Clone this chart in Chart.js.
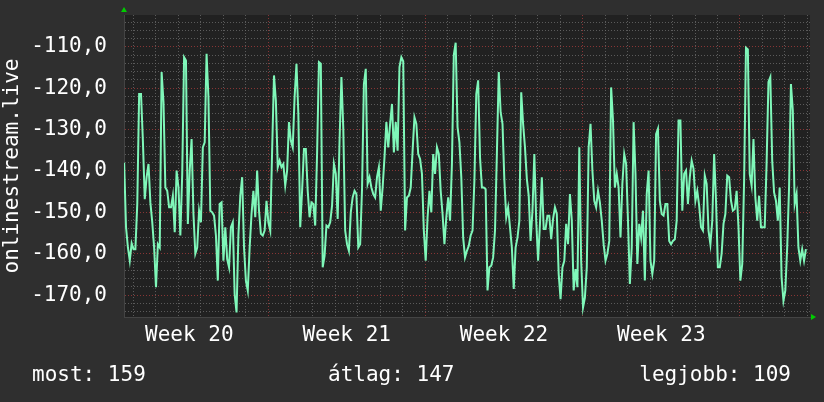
<!DOCTYPE html>
<html>
<head>
<meta charset="utf-8">
<script src="https://cdn.jsdelivr.net/npm/chart.js@4.4.1/dist/chart.umd.min.js"></script>
<style>
  html, body { margin: 0; padding: 0; background: #2f2f2f; }
  canvas { display: block; }
</style>
</head>
<body>
<canvas id="chart" width="824" height="402"></canvas>
<script>
// samples every 2 hours, x in days from the start of week 20
var dayStart = 0.6;
var dayStep = 1 / 12;

var signal = [
  -138, -153.6, -158.5, -161.7, -157.5, -158.9, -158.9, -148, -121.4, -121.4,
  -132.7, -146.8, -141.5, -138.3, -147.6, -152.4, -158.5, -168.1, -157.7, -158.5,
  -116.1, -123.4, -144, -144.8, -148.8, -148.8, -146, -154.8, -139.9, -144,
  -155.6, -140.7, -112.5, -113.3, -152.8, -139.9, -132.3, -150.4, -160, -158.5,
  -149.6, -152.4, -134.3, -133.1, -111.7, -122.2, -149.6, -150, -150.8, -155.6,
  -166.5, -148,
  -147.6, -161.7, -153.6, -161.3, -163.3, -153.6, -152.4, -169.8, -174.2, -155.6,
  -146, -141.5, -158.5, -166.5, -168.9, -158.5, -150.4, -144.8, -151.2, -139.9,
  -149.6, -155.2, -155.6, -154.4, -147.2, -152.4, -154.4, -135.1, -116.9, -123,
  -139.1, -137.5, -139.1, -138.3, -143.5, -139.9, -128.2, -132.7, -134.3, -122.2,
  -114.1, -126.2, -153.6, -144.8, -134.7, -134.7, -144.8, -151.2, -147.6, -148,
  -153.2, -135.9,
  -113.7, -114.1, -163.3, -160.5, -153.2, -153.6, -152.4, -148.4, -138.3, -140.7,
  -151.6, -132.7, -117.3, -129.8, -154.4, -157.7, -159.3, -150, -146.4, -144.8,
  -145.6, -158.5, -157.7, -144.4, -119, -115.3, -143.1, -141.5, -144, -145.6,
  -146.4, -141.5, -139.1, -149.6, -144, -136.7, -128.2, -134.3, -128.6, -123.8,
  -135.5, -128.2, -135.1, -114.9, -112.5, -113.5, -154.4, -146.4, -146, -144,
  -135.1, -127,
  -128.6, -135.9, -137.1, -140.7, -154.4, -161.7, -151.2, -144.8, -150, -135.9,
  -140.7, -134.3, -135.9, -144.8, -150.4, -157.7, -151.2, -146.4, -152, -138.3,
  -112, -109, -129.4, -133.1, -141.5, -156.1, -160.9, -159.3, -158.1, -155.6,
  -154.4, -142.3, -121.4, -118.1, -136.7, -144, -144, -144.4, -168.9, -163.3,
  -162.9, -160.9, -154.4, -135.9, -116.1, -125.8, -128.6, -142.3, -151.2, -148.8,
  -153.6, -158.5,
  -168.5, -158.5, -156.1, -152, -121, -128.6, -134.3, -141.9, -146, -156.9,
  -149.6, -135.9, -152, -161.7, -152.8, -141.5, -154, -154, -150.8, -150.8,
  -156.5, -151.6, -148.8, -150.4, -164.9, -171, -163.3, -161.7, -152.8, -157.7,
  -145.6, -152, -168.9, -163.7, -168.1, -134.3, -161.7, -173, -170.6, -163.3,
  -134.3, -128.6, -139.9, -147.2, -148.8, -144.8, -147.6, -152, -157.7, -161.7,
  -160, -156.9, -119.8,
  -127.8, -144, -140.7, -144, -156.1, -143.1, -135.9, -138.3, -152, -167.3,
  -158.5, -128.2, -140.7, -162.5, -152.8, -156.1, -149.6, -166.5, -145.6, -139.9,
  -161.7, -164.9, -161.7, -131.1, -129.8, -147.2, -150.4, -150.8, -148, -148,
  -156.9, -157.7, -156.9, -156.5, -152, -127.8, -127.8, -149.6, -140.7, -139.9,
  -148, -141.5, -137.5, -139.5, -147.2, -144.8, -148.4, -153.6, -154.4, -141.1,
  -143.1, -154.4,
  -157.7, -152, -135.9, -147.2, -163.3, -163.3, -160, -152.8, -150.4, -141.1,
  -141.5, -147.2, -149.6, -149.2, -144.8, -153.6, -166.5, -162.5, -142.3, -110.2,
  -110.6, -140.7, -143.5, -132.3, -146.4, -152, -146, -153.6, -153.6, -153.6,
  -138.3, -118.5, -117.3, -137.5, -145.2, -147.2, -152, -144, -165.7, -171.4,
  -168.9, -158.5, -144, -119, -125.4, -148, -145.6, -158.5, -161.7, -158.9,
  -161.7, -158.9
];

var weekLabels = ['Week 20', 'Week 21', 'Week 22', 'Week 23'];
var weekCenters = [3.5, 10.5, 17.5, 24.5];
var yAxisTitle = 'onlinestream.live';
var footerLabels = ['most: 159', '\u00e1tlag: 147', 'legjobb: 109'];

var xMin = 0.593, xMax = 31.115;
var yMin = -175.3, yMax = -102.3;

var mono = 'DejaVu Sans Mono';

var points = signal.map(function (v, i) {
    return { x: dayStart + i * dayStep, y: v };
});

var dayTicks = [];
for (var d = 1; d <= 31; d += 0.5) dayTicks.push(d);
var yTicks = [];
for (var t = -174; t <= -104; t += 2) yTicks.push(t);

function isMult(v, m) {
    var r = Math.abs(v % m);
    return r < 1e-6 || Math.abs(r - m) < 1e-6;
}

var backdrop = {
    id: 'backdrop',
    beforeDraw: function (chart) {
        var ctx = chart.ctx, a = chart.chartArea;
        ctx.save();
        ctx.fillStyle = '#2f2f2f';
        ctx.fillRect(0, 0, chart.width, chart.height);
        ctx.fillStyle = '#212121';
        ctx.fillRect(a.left, a.top, a.right - a.left, a.bottom - a.top);
        ctx.restore();
    },
    afterDraw: function (chart) {
        var ctx = chart.ctx, a = chart.chartArea;
        ctx.save();
        // little green arrows at the axis ends
        ctx.fillStyle = '#00cc00';
        ctx.beginPath();
        ctx.moveTo(a.left - 3, a.top - 3);
        ctx.lineTo(a.left + 3, a.top - 3);
        ctx.lineTo(a.left, a.top - 8);
        ctx.fill();
        ctx.beginPath();
        ctx.moveTo(a.right + 1, a.bottom - 3);
        ctx.lineTo(a.right + 1, a.bottom + 3);
        ctx.lineTo(a.right + 6, a.bottom);
        ctx.fill();
        // footer
        ctx.fillStyle = '#ffffff';
        ctx.font = '21px "' + mono + '"';
        ctx.textBaseline = 'alphabetic';
        ctx.textAlign = 'left';
        ctx.fillText(footerLabels[0], 32, 381);
        ctx.fillText(footerLabels[1], 328, 381);
        ctx.textAlign = 'right';
        ctx.fillText(footerLabels[2], 791, 381);
        ctx.restore();
    }
};

new Chart(document.getElementById('chart'), {
    type: 'line',
    data: {
        datasets: [{
            data: points,
            borderColor: '#7ff7b9',
            borderWidth: 2,
            pointRadius: 0,
            tension: 0,
            fill: false
        }]
    },
    options: {
        responsive: false,
        animation: false,
        layout: { padding: { left: 0, top: 15, right: 14, bottom: 57 } },
        plugins: { legend: { display: false }, tooltip: { enabled: false } },
        scales: {
            x: {
                type: 'linear',
                min: xMin,
                max: xMax,
                afterBuildTicks: function (axis) {
                    axis.ticks = dayTicks.map(function (v) { return { value: v }; });
                },
                afterFit: function (axis) {
                    axis.height = 28;
                    axis.paddingLeft = 0;
                    axis.paddingRight = 0;
                },
                grid: {
                    drawTicks: false,
                    lineWidth: 1,
                    color: function (c) {
                        if (!c.tick) return 'transparent';
                        var v = c.tick.value;
                        if (!isMult(v, 1)) return 'transparent';
                        return isMult(v, 7) ? 'rgba(170,60,60,0.75)' : 'rgba(110,110,110,0.75)';
                    }
                },
                border: { display: true, color: '#444444', dash: [1, 2] },
                ticks: {
                    autoSkip: false,
                    maxRotation: 0,
                    padding: 6,
                    color: '#ffffff',
                    font: { family: mono, size: 21 },
                    callback: function (v) {
                        var k = weekCenters.indexOf(v);
                        return k >= 0 ? weekLabels[k] : '';
                    }
                }
            },
            y: {
                min: yMin,
                max: yMax,
                afterBuildTicks: function (axis) {
                    axis.ticks = yTicks.map(function (v) { return { value: v }; });
                },
                afterFit: function (axis) {
                    axis.width = 124;
                    axis.paddingTop = 0;
                    axis.paddingBottom = 0;
                },
                grid: {
                    drawTicks: false,
                    lineWidth: 1,
                    color: function (c) {
                        if (!c.tick) return 'transparent';
                        return isMult(c.tick.value, 10) ? 'rgba(170,60,60,0.75)' : 'rgba(110,110,110,0.75)';
                    }
                },
                border: { display: true, color: '#444444', dash: [1, 2] },
                ticks: {
                    autoSkip: false,
                    padding: 17,
                    color: '#ffffff',
                    font: { family: mono, size: 21 },
                    callback: function (v) {
                        return isMult(v, 10) ? v.toFixed(1).replace('.', ',') : '';
                    }
                },
                title: {
                    display: true,
                    text: yAxisTitle,
                    color: '#ffffff',
                    padding: 0,
                    font: { family: mono, size: 21 }
                }
            }
        }
    },
    plugins: [backdrop]
});
</script>
</body>
</html>
